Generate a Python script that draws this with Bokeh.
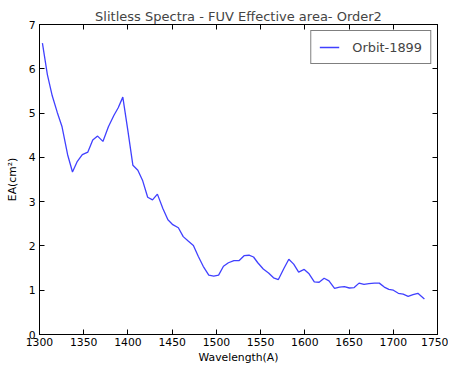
from bokeh.plotting import figure
from bokeh.models import LinearAxis, Range1d, SingleIntervalTicker, CustomJSTickFormatter, Legend, LegendItem
from bokeh.embed import file_html
from bokeh.resources import INLINE

wavelength = [1303.3, 1308.9, 1314.4, 1320.0, 1325.5, 1331.8, 1337.3, 1342.8, 1348.4, 1354.7,
              1360.2, 1365.7, 1371.7, 1377.9, 1384.2, 1389.0, 1394.2, 1399.8, 1405.6, 1411.2,
              1416.7, 1422.3, 1427.8, 1433.3, 1439.6, 1445.2, 1450.7, 1457.0, 1462.5, 1468.1,
              1474.0, 1479.6, 1485.1, 1491.4, 1497.0, 1502.5, 1508.0, 1513.6, 1519.8, 1525.8,
              1531.3, 1536.9, 1542.0, 1546.8, 1553.0, 1559.0, 1564.6, 1570.1, 1576.3, 1581.9,
              1587.4, 1593.0, 1599.3, 1604.8, 1610.7, 1616.2, 1621.8, 1627.3, 1633.6, 1639.2,
              1644.7, 1650.3, 1655.8, 1661.3, 1666.9, 1672.4, 1678.7, 1684.2, 1689.8, 1695.0,
              1700.1, 1705.7, 1711.2, 1716.8, 1722.3, 1727.8, 1735.2]
ea_orbit_1899 = [6.58, 5.87, 5.39, 5.02, 4.69, 4.06, 3.67, 3.91, 4.06, 4.12,
                 4.39, 4.48, 4.36, 4.69, 4.95, 5.12, 5.36, 4.62, 3.82, 3.71,
                 3.47, 3.10, 3.04, 3.17, 2.84, 2.59, 2.48, 2.41, 2.21, 2.11,
                 2.01, 1.76, 1.54, 1.34, 1.32, 1.34, 1.54, 1.62, 1.67, 1.67,
                 1.78, 1.79, 1.75, 1.62, 1.48, 1.39, 1.28, 1.24, 1.49, 1.70,
                 1.59, 1.41, 1.47, 1.37, 1.19, 1.18, 1.27, 1.21, 1.04, 1.07,
                 1.08, 1.05, 1.06, 1.16, 1.13, 1.15, 1.16, 1.16, 1.07, 1.02,
                 1.00, 0.93, 0.91, 0.86, 0.90, 0.93, 0.80]
series_label = "Orbit-1899"
title_text = "Slitless Spectra - FUV Effective area- Order2"
x_label = "Wavelength(A)"
y_label = "EA(cm²)"

FONT = "DejaVu Sans"

p = figure(width=448, height=366, output_backend="svg", toolbar_location=None,
           x_range=Range1d(1300, 1750), y_range=Range1d(0, 7),
           min_border_left=39, min_border_right=11, min_border_top=24, min_border_bottom=31,
           background_fill_color="white", border_fill_color="white")

p.title.text = title_text
p.title.align = "center"
p.title.text_font = FONT
p.title.text_font_size = "13px"
p.title.text_font_style = "normal"
p.title.standoff = 2
p.title.offset = 0

p.xgrid.visible = False
p.ygrid.visible = False
p.outline_line_color = "black"
p.outline_line_width = 1

xt = SingleIntervalTicker(interval=50)
yt = SingleIntervalTicker(interval=1)

for ax, t in ((p.xaxis[0], xt), (p.yaxis[0], yt)):
    ax.ticker = t
    ax.major_tick_in = 5
    ax.major_tick_out = 0
    ax.minor_tick_in = 0
    ax.minor_tick_out = 0
    ax.axis_line_color = "black"
    ax.major_tick_line_color = "black"
    ax.major_label_text_font = FONT
    ax.major_label_text_font_size = "10.8px"
    ax.major_label_text_color = "black"
    ax.axis_label_text_font = FONT
    ax.axis_label_text_font_size = "10.8px"
    ax.axis_label_text_font_style = "normal"
    ax.axis_label_text_color = "black"

p.xaxis.axis_label = x_label
p.yaxis.axis_label = y_label
p.xaxis.major_label_standoff = 3
p.xaxis.axis_label_standoff = 2
p.yaxis.major_label_standoff = 4
p.yaxis.axis_label_standoff = 7

empty = CustomJSTickFormatter(code="return '';")
top = LinearAxis(ticker=SingleIntervalTicker(interval=50), formatter=empty,
                 major_tick_in=5, major_tick_out=0, minor_tick_in=0, minor_tick_out=0,
                 major_label_standoff=0, axis_line_color="black", major_tick_line_color="black")
right = LinearAxis(ticker=SingleIntervalTicker(interval=1), formatter=empty,
                   major_tick_in=5, major_tick_out=0, minor_tick_in=0, minor_tick_out=0,
                   major_label_standoff=0, axis_line_color="black", major_tick_line_color="black")
p.add_layout(top, "above")
p.add_layout(right, "right")

r = p.line(wavelength, ea_orbit_1899, line_color="blue", line_alpha=0.75, line_width=1.3)

legend = Legend(items=[LegendItem(label=series_label, renderers=[r])],
                location="top_right", border_line_color="black", border_line_width=1,
                label_text_font=FONT, label_text_font_size="12.9px",
                glyph_width=20, glyph_height=16, label_standoff=13,
                padding=8, margin=6, spacing=0, label_height=16)
p.add_layout(legend, "center")

open("out.html", "w").write(file_html(p, INLINE))
